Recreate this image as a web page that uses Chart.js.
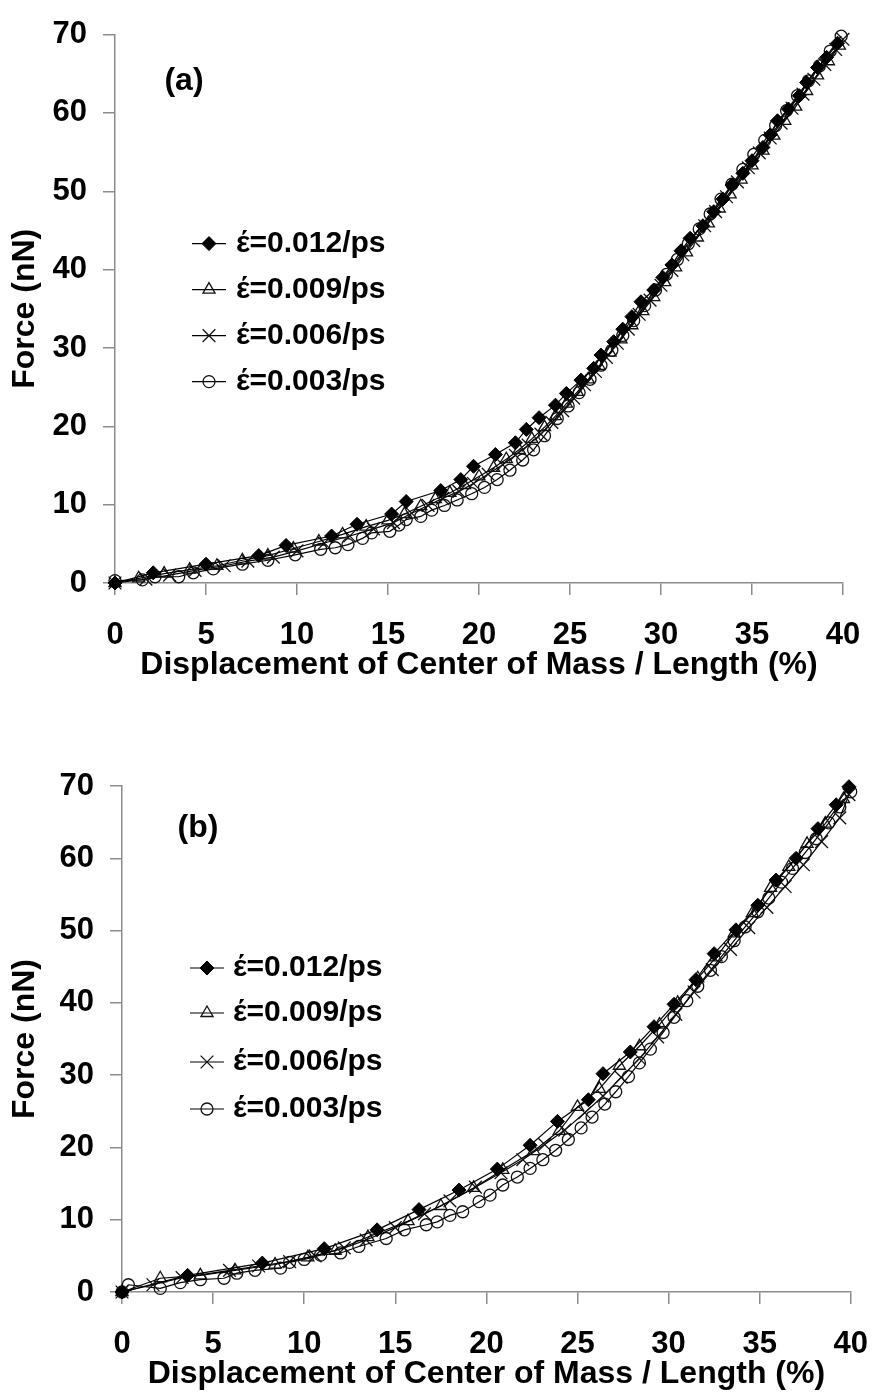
<!DOCTYPE html>
<html>
<head>
<meta charset="utf-8">
<script src="https://cdn.jsdelivr.net/npm/chart.js@4.4.1/dist/chart.umd.min.js"></script>
<style>
  body { margin: 0; background: #fff; }
  .panel { position: absolute; left: 0; }
  #panelA { top: 0; }
  #panelB { top: 690px; }
</style>
</head>
<body>
<div class="panel" id="panelA"><canvas id="chartA" width="890" height="690"></canvas></div>
<div class="panel" id="panelB"><canvas id="chartB" width="890" height="707"></canvas></div>
<script>
// legend labels (same for both panels)
const rateLabels = ['έ=0.012/ps', 'έ=0.009/ps', 'έ=0.006/ps', 'έ=0.003/ps'];
const xTicks = [0, 5, 10, 15, 20, 25, 30, 35, 40];
const yTicks = [0, 10, 20, 30, 40, 50, 60, 70];

// panel (a)
const aX012 = [0, 2.1, 5.0, 7.9, 9.4, 11.9, 13.3, 15.2, 16.0, 17.9, 19.0, 19.7, 20.9, 22.0, 22.6, 23.3, 24.2, 24.8, 25.6, 26.3, 26.7, 27.4, 27.9, 28.4, 28.9, 29.6, 30.1, 30.6, 31.1, 31.6, 32.3, 32.9, 33.4, 33.9, 34.5, 35.0, 35.6, 36.0, 36.4, 37.0, 37.6, 38.0, 38.6, 39.1, 39.7];
const aY012 = [0, 1.3, 2.4, 3.5, 4.8, 6.0, 7.5, 8.8, 10.4, 11.8, 13.2, 14.9, 16.4, 17.9, 19.6, 21.1, 22.7, 24.2, 25.9, 27.4, 29.1, 30.8, 32.4, 34.0, 35.9, 37.4, 39.0, 40.6, 42.4, 44.0, 45.6, 47.4, 49.0, 50.8, 52.3, 53.9, 55.6, 57.2, 59.0, 60.5, 62.2, 63.9, 65.8, 67.1, 68.9];

const aX009 = [0, 1.3, 2.7, 4.1, 5.6, 7.0, 8.4, 9.8, 11.2, 12.5, 13.8, 15.0, 15.9, 16.8, 17.6, 18.4, 19.2, 20.0, 20.8, 21.5, 22.2, 22.9, 23.6, 24.2, 24.8, 25.4, 26.0, 26.6, 27.2, 27.8, 28.4, 29.0, 29.6, 30.2, 30.8, 31.4, 32.0, 32.6, 33.2, 33.8, 34.4, 35.0, 35.6, 36.2, 36.8, 37.4, 38.0, 38.6, 39.2, 39.8];
const aY009 = [0, 0.6, 1.2, 1.7, 2.2, 2.9, 3.5, 4.4, 5.3, 6.2, 7.2, 8.0, 8.8, 9.8, 10.7, 11.5, 12.5, 13.6, 14.7, 15.8, 17.0, 18.4, 19.9, 21.3, 22.9, 24.4, 26.0, 27.7, 29.4, 31.1, 32.9, 34.7, 36.5, 38.4, 40.3, 42.2, 44.1, 45.9, 47.8, 49.6, 51.5, 53.3, 55.2, 57.1, 59.0, 60.8, 62.8, 64.8, 66.6, 68.6];

const aX006 = [0, 1.7, 3.0, 4.4, 6.0, 7.3, 8.7, 10.0, 11.5, 12.9, 14.2, 15.3, 16.3, 17.2, 18.0, 18.9, 19.7, 20.5, 21.3, 22.0, 22.7, 23.4, 24.0, 24.6, 25.2, 25.8, 26.4, 27.0, 27.6, 28.2, 28.8, 29.4, 30.0, 30.6, 31.2, 31.8, 32.4, 33.0, 33.6, 34.2, 34.8, 35.4, 36.0, 36.6, 37.2, 37.8, 38.4, 39.0, 39.6, 40.0];
const aY006 = [0, 0.5, 1.0, 1.6, 2.2, 2.8, 3.3, 4.1, 5.1, 6.0, 6.9, 7.7, 8.9, 9.9, 10.8, 11.7, 12.7, 13.9, 15.1, 16.3, 17.6, 19.0, 20.5, 22.0, 23.6, 25.3, 27.0, 28.8, 30.6, 32.4, 34.3, 36.1, 38.0, 39.9, 41.9, 43.7, 45.6, 47.4, 49.3, 51.2, 53.0, 54.9, 56.8, 58.7, 60.6, 62.4, 64.3, 66.2, 68.1, 69.4];

const aX003 = [0, 1.5, 2.2, 3.5, 4.3, 5.4, 7.0, 8.4, 9.9, 11.3, 12.1, 12.8, 13.6, 14.1, 15.1, 15.6, 16.0, 16.8, 17.4, 18.1, 18.8, 19.6, 20.3, 21.0, 21.7, 22.4, 23.0, 23.6, 24.3, 24.9, 25.5, 26.1, 26.7, 27.3, 27.9, 28.5, 29.1, 29.7, 30.3, 30.9, 31.5, 32.1, 32.7, 33.3, 33.9, 34.5, 35.1, 35.7, 36.3, 36.9, 37.5, 38.1, 38.7, 39.3, 39.9];
const aY003 = [0.3, 0.4, 0.8, 0.8, 1.3, 1.8, 2.4, 2.9, 3.6, 4.3, 4.5, 4.9, 5.7, 6.4, 6.6, 7.4, 8.1, 8.5, 9.3, 9.9, 10.6, 11.4, 12.2, 13.2, 14.4, 15.7, 17.0, 18.8, 21.0, 22.6, 24.3, 26.0, 27.8, 29.7, 31.6, 33.5, 35.4, 37.4, 39.4, 41.3, 43.3, 45.2, 47.1, 49.0, 50.9, 52.8, 54.7, 56.5, 58.4, 60.3, 62.2, 64.1, 66.0, 67.9, 69.8];

// panel (b)
const bX012 = [0, 3.6, 7.7, 11.1, 14.0, 16.3, 18.5, 20.6, 22.4, 23.9, 25.6, 26.4, 27.9, 29.2, 30.3, 31.5, 32.5, 33.7, 34.9, 35.9, 37.0, 38.2, 39.2, 39.9];
const bY012 = [0, 2.3, 4.0, 6.0, 8.6, 11.4, 14.1, 17.0, 20.3, 23.6, 26.6, 30.2, 33.2, 36.7, 39.8, 43.2, 46.8, 50.1, 53.5, 57.0, 60.0, 64.1, 67.4, 69.9];

const bX009 = [0, 2.1, 4.3, 6.2, 8.4, 10.2, 11.7, 13.5, 15.7, 17.5, 19.3, 20.9, 22.6, 24.0, 25.0, 26.2, 27.3, 28.4, 29.5, 30.5, 31.6, 32.6, 33.6, 34.6, 35.6, 36.6, 37.6, 38.6, 39.6];
const bY009 = [0, 1.9, 2.3, 3.0, 3.8, 4.8, 5.7, 7.6, 9.8, 11.9, 14.4, 16.9, 19.5, 22.3, 25.6, 28.1, 31.3, 34.0, 37.0, 40.0, 43.4, 46.3, 49.6, 52.4, 55.9, 58.8, 62.0, 64.8, 68.2];

const bX006 = [0, 1.7, 3.3, 5.9, 7.5, 9.2, 10.6, 12.2, 13.4, 15.0, 16.6, 18.0, 19.4, 20.8, 22.0, 23.2, 24.3, 25.4, 26.4, 27.4, 28.4, 29.4, 30.4, 31.4, 32.4, 33.4, 34.4, 35.4, 36.4, 37.4, 38.4, 39.4, 39.9];
const bY006 = [0, 1.0, 2.0, 3.0, 3.6, 4.2, 5.0, 6.1, 7.2, 8.9, 10.8, 12.6, 14.5, 16.5, 18.3, 20.4, 22.4, 24.8, 27.1, 29.7, 32.3, 35.3, 38.4, 41.5, 44.6, 47.4, 50.4, 53.2, 56.1, 59.1, 62.3, 65.6, 68.8];

const bX003 = [0, 0.35, 2.1, 3.2, 4.3, 5.6, 6.3, 7.3, 8.7, 9.2, 10.0, 10.9, 12.0, 13.0, 14.5, 15.5, 16.7, 17.3, 18.0, 18.7, 19.6, 20.2, 20.9, 21.7, 22.4, 23.1, 23.8, 24.5, 25.2, 25.8, 26.5, 27.1, 27.8, 28.4, 29.0, 29.7, 30.3, 31.0, 31.6, 32.3, 32.9, 33.6, 34.2, 34.9, 35.5, 36.2, 36.8, 37.5, 38.1, 38.8, 39.4, 40.0];
const bY003 = [0, 1.0, 0.5, 1.3, 1.7, 1.9, 2.6, 3.0, 3.3, 4.1, 4.5, 5.1, 5.4, 6.3, 7.4, 8.6, 9.3, 9.7, 10.6, 11.1, 12.5, 13.4, 14.8, 15.9, 17.1, 18.3, 19.6, 21.1, 22.7, 24.2, 26.0, 27.7, 29.8, 31.7, 33.6, 35.9, 38.0, 40.3, 42.3, 44.5, 46.4, 48.6, 50.5, 52.6, 54.5, 56.7, 58.6, 60.8, 62.7, 64.9, 67.1, 69.2];

const FONT = '"Liberation Sans", Arial, Helvetica, sans-serif';
Chart.defaults.font.family = FONT;
Chart.defaults.color = '#000';

const markers = [
  { pointStyle: 'rectRot', pointRadius: 7, pointBackgroundColor: '#000', pointBorderColor: '#000', pointBorderWidth: 1 },
  { pointStyle: 'triangle', pointRadius: 7, pointBackgroundColor: 'rgba(0,0,0,0)', pointBorderColor: '#111', pointBorderWidth: 1.3 },
  { pointStyle: 'crossRot', pointRadius: 9, pointBackgroundColor: 'rgba(0,0,0,0)', pointBorderColor: '#111', pointBorderWidth: 1.3 },
  { pointStyle: 'circle', pointRadius: 6, pointBackgroundColor: 'rgba(0,0,0,0)', pointBorderColor: '#111', pointBorderWidth: 1.3 }
];

function toPoints(xs, ys) {
  return xs.map((x, i) => ({ x: x, y: ys[i] }));
}

function makeSets(pairs) {
  return pairs.map((p, i) => Object.assign({
    label: rateLabels[i],
    data: toPoints(p[0], p[1]),
    showLine: true,
    borderColor: '#000',
    borderWidth: 1.2,
    pointHoverRadius: 0,
    clip: false
  }, markers[i]));
}

// legend with a line through each marker, plus the panel tag
const sideLegend = {
  id: 'sideLegend',
  afterDraw(chart, args, opts) {
    const { ctx, chartArea } = chart;
    ctx.save();
    ctx.fillStyle = '#000';
    ctx.textBaseline = 'middle';
    ctx.textAlign = 'center';
    ctx.font = 'bold 32px ' + FONT;
    ctx.fillText(opts.tag, chartArea.left + opts.tagX, chartArea.top + opts.tagY);

    ctx.textAlign = 'left';
    ctx.font = 'bold 30px ' + FONT;
    chart.data.datasets.forEach((ds, i) => {
      const y = chartArea.top + opts.rowY[i];
      const x0 = chartArea.left + opts.lineX;
      ctx.strokeStyle = '#000';
      ctx.lineWidth = 1.2;
      ctx.beginPath();
      ctx.moveTo(x0, y);
      ctx.lineTo(x0 + opts.lineW, y);
      ctx.stroke();

      ctx.fillStyle = ds.pointBackgroundColor;
      ctx.strokeStyle = ds.pointBorderColor;
      ctx.lineWidth = ds.pointBorderWidth;
      if (Chart.helpers && Chart.helpers.drawPoint) {
        Chart.helpers.drawPoint(ctx, {
          pointStyle: ds.pointStyle,
          radius: ds.pointRadius,
          borderWidth: ds.pointBorderWidth,
          rotation: 0
        }, x0 + opts.lineW / 2, y);
      }
      ctx.fillStyle = '#000';
      ctx.fillText(ds.label, chartArea.left + opts.textX, y);
    });
    ctx.restore();
  }
};

function buildChart(canvasId, sets, box, legendOpts) {
  const axisColor = '#8c8c8c';
  return new Chart(document.getElementById(canvasId), {
    type: 'scatter',
    data: { datasets: sets },
    options: {
      responsive: false,
      animation: false,
      events: [],
      layout: { padding: { top: box.top, right: box.right, left: 0, bottom: 0 } },
      plugins: {
        legend: { display: false },
        tooltip: { enabled: false },
        sideLegend: legendOpts
      },
      scales: {
        x: {
          type: 'linear',
          min: 0,
          max: 40,
          afterBuildTicks: s => { s.ticks = xTicks.map(v => ({ value: v })); },
          afterFit: s => { s.height = box.xHeight; },
          grid: { drawOnChartArea: false, tickLength: 12, color: axisColor, lineWidth: 1.5 },
          border: { color: axisColor, width: 1.5 },
          ticks: { padding: 22, maxRotation: 0, autoSkip: false, color: '#000', font: { size: 31, weight: 'bold' } },
          title: {
            display: true,
            text: 'Displacement of Center of Mass / Length (%)',
            color: '#000',
            font: { size: 32, weight: 'bold' },
            padding: { top: 0, bottom: box.xTitlePad }
          }
        },
        y: {
          type: 'linear',
          min: 0,
          max: 70,
          afterBuildTicks: s => { s.ticks = yTicks.map(v => ({ value: v })); },
          afterFit: s => { s.width = box.yWidth; },
          grid: { drawOnChartArea: false, tickLength: 12, color: axisColor, lineWidth: 1.5 },
          border: { color: axisColor, width: 1.5 },
          ticks: { padding: 16, color: '#000', font: { size: 31, weight: 'bold' } },
          title: {
            display: true,
            text: 'Force (nN)',
            color: '#000',
            font: { size: 32, weight: 'bold' },
            padding: { top: 6, bottom: 0 }
          }
        }
      }
    },
    plugins: [sideLegend]
  });
}

buildChart('chartA',
  makeSets([[aX012, aY012], [aX009, aY009], [aX006, aY006], [aX003, aY003]]),
  { top: 21, right: 47, yWidth: 115, xHeight: 107, xTitlePad: 6 },
  { tag: '(a)', tagX: 69, tagY: 47, lineX: 77, lineW: 34, textX: 121, rowY: [209, 255, 301, 347] });

buildChart('chartB',
  makeSets([[bX012, bY012], [bX009, bY009], [bX006, bY006], [bX003, bY003]]),
  { top: 96, right: 21, yWidth: 122, xHeight: 105, xTitlePad: 4 },
  { tag: '(b)', tagX: 76, tagY: 42, lineX: 68, lineW: 34, textX: 111, rowY: [182, 227, 276, 323] });
</script>
</body>
</html>
